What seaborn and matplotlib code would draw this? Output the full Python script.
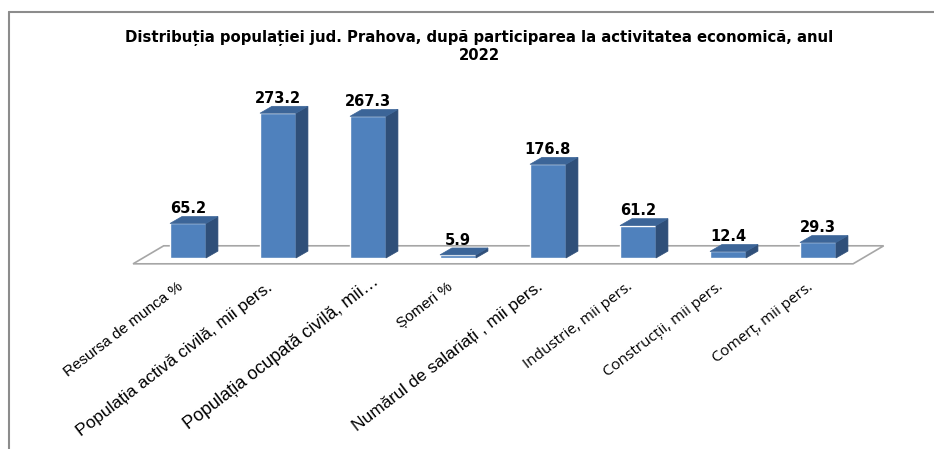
import matplotlib
matplotlib.use('Agg')
import matplotlib.pyplot as plt
import seaborn as sns
from matplotlib.patches import Polygon
from matplotlib.lines import Line2D
import matplotlib.transforms as mtransforms

# Data
categories = ['Resursa de munca %', 'Populația activă civilă, mii pers.',
              'Populația ocupată civilă, mii…', 'Șomeri %',
              'Numărul de salariați , mii pers.', 'Industrie, mii pers.',
              'Construcții, mii pers.', 'Comerț, mii pers.']
values = [65.2, 273.2, 267.3, 5.9, 176.8, 61.2, 12.4, 29.3]
value_labels = ['65.2', '273.2', '267.3', '5.9', '176.8', '61.2', '12.4', '29.3']
title = 'Distribuția populației jud. Prahova, după participarea la activitatea economică, anul\n2022'

sns.set_style('white')
plt.rcParams['text.color'] = 'black'
plt.rcParams['xtick.color'] = 'black'

FRONT = '#4F81BD'
SIDE = '#2F4F79'
TOP = '#3C6598'

fig = plt.figure(figsize=(9.34, 4.49), dpi=100)
ax = fig.add_axes([0.1338, 0.4018, 0.8287, 0.4013])

sns.barplot(x=categories, y=values, color=FRONT, width=0.4, saturation=1,
            ax=ax, zorder=3)

ax.set_xlim(-0.7, 7.9)
ax.set_ylim(-20, 320)

# depth of bars (data units)
dx, dy = 0.133, 13.0

# floor
n = len(categories)
fx0, fx1, fy = -0.61, n - 1 + 0.39, -11
bdx, bdy = 0.34, 34
floor = Polygon([(fx0, fy), (fx1, fy), (fx1 + bdx, fy + bdy), (fx0 + bdx, fy + bdy)],
                closed=True, facecolor='white', edgecolor='#A6A6A6', lw=1.2,
                zorder=1, clip_on=False)
ax.add_patch(floor)

for p, lab in zip(list(ax.patches)[:n], value_labels):
    x0 = p.get_x()
    x1 = x0 + p.get_width()
    h = p.get_height()
    side = Polygon([(x1, 0), (x1 + dx, dy), (x1 + dx, h + dy), (x1, h)],
                   closed=True, facecolor=SIDE, edgecolor=SIDE, lw=0.5, zorder=3)
    top = Polygon([(x0, h), (x1, h), (x1 + dx, h + dy), (x0 + dx, h + dy)],
                  closed=True, facecolor=TOP, edgecolor=TOP, lw=0.5, zorder=3)
    ax.add_patch(side)
    ax.add_patch(top)
    ax.text((x0 + x1) / 2, h + 28, lab, ha='center', va='center',
            fontsize=10.5, fontweight='bold', family='DejaVu Sans',
            color='black', clip_on=False)

for s in ax.spines.values():
    s.set_visible(False)
ax.set_yticks([])
ax.set_xlabel('')
ax.set_ylabel('')
ax.tick_params(axis='x', length=0, pad=12, colors='black')
ax.set_xticks(range(n))
ax.set_xticklabels(categories, rotation=37.5, ha='right', va='center',
                   rotation_mode='anchor')

label_styles = [('Liberation Sans', 11), ('Liberation Sans', 12.5),
                ('Liberation Sans', 13), ('Liberation Sans', 11),
                ('Liberation Sans', 12.5), ('Open Sans', 11),
                ('Open Sans', 11), ('Open Sans', 11)]
label_shift = [(-7, 0), (-7, 0), (9, 6), (-7, 0), (-7, 0), (-7, 0), (-7, 0), (-7, 0)]
for t, (fam, size), (sx, sy) in zip(ax.get_xticklabels(), label_styles, label_shift):
    t.set_family(fam)
    t.set_fontsize(size)
    t.set_color('black')
    shift = mtransforms.ScaledTranslation(sx / 100, sy / 100, fig.dpi_scale_trans)
    t.set_transform(t.get_transform() + shift)

fig.text(0.513, 1 - 46.5 / 449, title, ha='center', va='center',
         fontsize=10.7, fontweight='bold', family='DejaVu Sans', linespacing=1.1,
         color='black')

# outer frame (top and left edges)
fig.add_artist(Line2D([8.5 / 934, 1], [1 - 11.5 / 449, 1 - 11.5 / 449],
                      color='#8C8C8C', lw=1.5, transform=fig.transFigure))
fig.add_artist(Line2D([8.5 / 934, 8.5 / 934], [0, 1 - 11.5 / 449],
                      color='#8C8C8C', lw=1.5, transform=fig.transFigure))

fig.savefig('out.png', dpi=100)
